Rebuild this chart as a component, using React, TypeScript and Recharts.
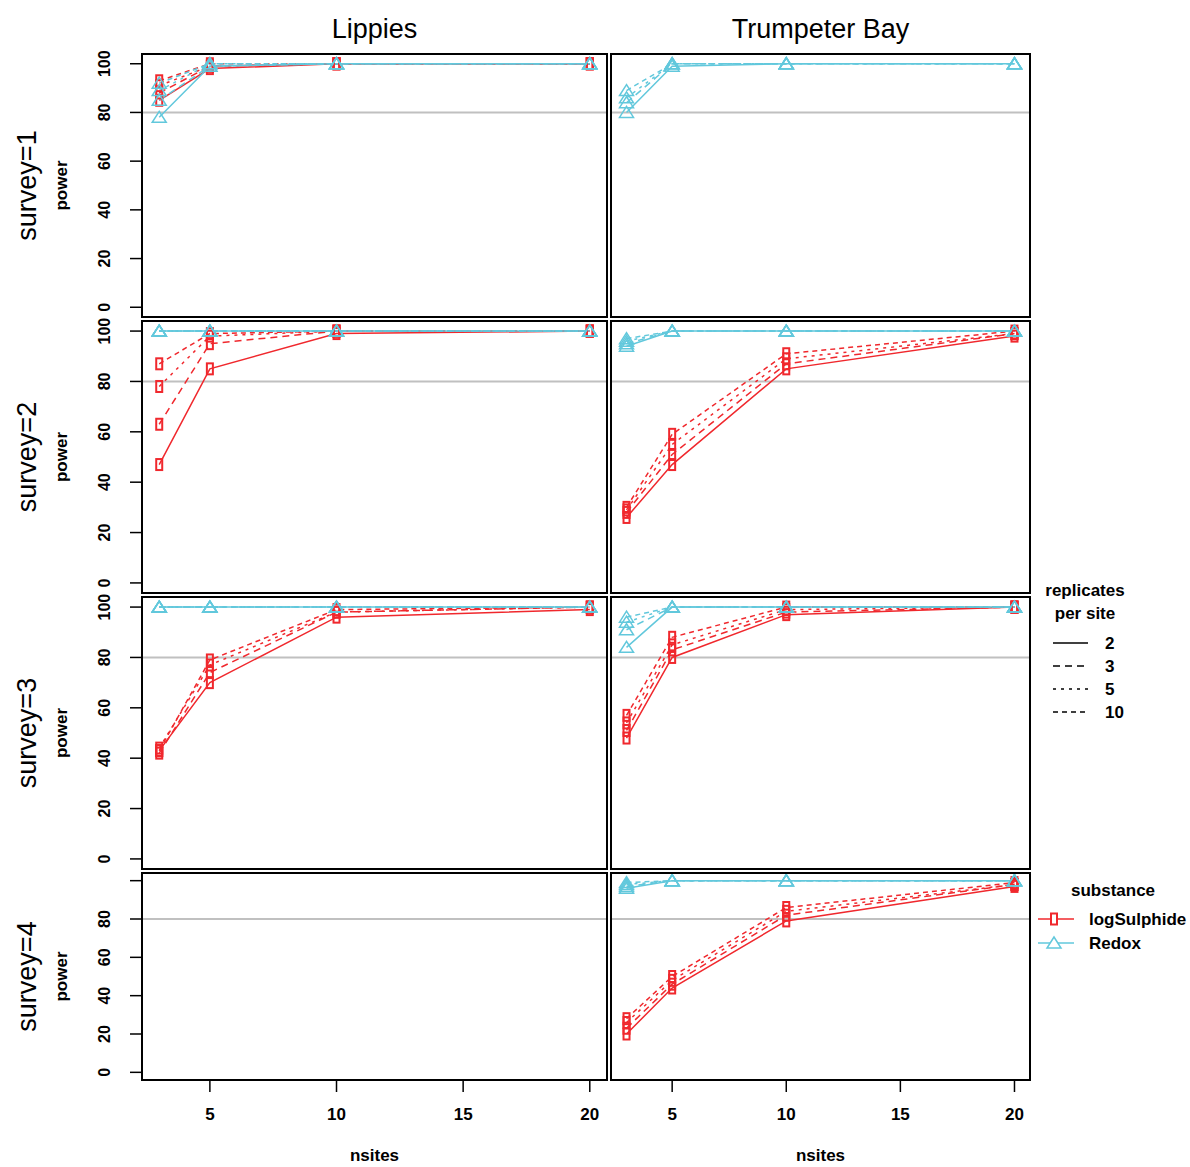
import React from "react";
import { LineChart, Line, XAxis, YAxis, ReferenceLine } from "recharts";

const FONT = '"Liberation Sans", Arial, Helvetica, sans-serif';
const RED = "#f0282d";
const CYAN = "#62c8dc";

const NSITES = [3, 5, 10, 20];
const REPLICATES = [2, 3, 5, 10];
const X_TICKS = [5, 10, 15, 20];
const Y_TICKS = [0, 20, 40, 60, 80, 100];
const SITES = ["Lippies", "Trumpeter Bay"];
const SURVEYS = ["survey=1", "survey=2", "survey=3", "survey=4"];

// power: one row per replicates value (2, 3, 5, 10), one column per nsites (3, 5, 10, 20)
const lippies1Sulphide = [[85, 98, 100, 100], [88, 99, 100, 100], [91, 99, 100, 100], [93, 100, 100, 100]];
const lippies1Redox = [[78, 99, 100, 100], [85, 99, 100, 100], [89, 100, 100, 100], [92, 100, 100, 100]];
const lippies2Sulphide = [[47, 85, 99, 100], [63, 95, 100, 100], [78, 98, 100, 100], [87, 99, 100, 100]];
const lippies2Redox = [[100, 100, 100, 100], [100, 100, 100, 100], [100, 100, 100, 100], [100, 100, 100, 100]];
const lippies3Sulphide = [[43, 70, 96, 99], [42, 74, 98, 100], [44, 77, 98, 100], [43, 79, 99, 100]];
const lippies3Redox = [[100, 100, 100, 100], [100, 100, 100, 100], [100, 100, 100, 100], [100, 100, 100, 100]];

const trumpeter1Redox = [[80, 99, 100, 100], [84, 100, 100, 100], [86, 100, 100, 100], [89, 100, 100, 100]];
const trumpeter2Sulphide = [[26, 47, 85, 98], [28, 51, 87, 99], [29, 55, 89, 99], [30, 59, 91, 100]];
const trumpeter2Redox = [[94, 100, 100, 100], [95, 100, 100, 100], [96, 100, 100, 100], [97, 100, 100, 100]];
const trumpeter3Sulphide = [[48, 80, 97, 100], [51, 83, 98, 100], [54, 85, 99, 100], [57, 88, 100, 100]];
const trumpeter3Redox = [[84, 100, 100, 100], [91, 100, 100, 100], [94, 100, 100, 100], [96, 100, 100, 100]];
const trumpeter4Sulphide = [[20, 44, 79, 97], [23, 46, 82, 98], [26, 48, 84, 98], [28, 50, 86, 99]];
const trumpeter4Redox = [[96, 100, 100, 100], [97, 100, 100, 100], [98, 100, 100, 100], [99, 100, 100, 100]];

const PANELS = [
  [
    { sulphide: lippies1Sulphide, redox: lippies1Redox },
    { sulphide: lippies2Sulphide, redox: lippies2Redox },
    { sulphide: lippies3Sulphide, redox: lippies3Redox },
    { sulphide: null, redox: null },
  ],
  [
    { sulphide: null, redox: trumpeter1Redox },
    { sulphide: trumpeter2Sulphide, redox: trumpeter2Redox },
    { sulphide: trumpeter3Sulphide, redox: trumpeter3Redox },
    { sulphide: trumpeter4Sulphide, redox: trumpeter4Redox },
  ],
];

const COLS = [
  { left: 142, right: 607 },
  { left: 611, right: 1030 },
];
const ROWS = [
  { top: 54, bottom: 317 },
  { top: 321, bottom: 593 },
  { top: 597, bottom: 869 },
  { top: 873, bottom: 1080 },
];

const DASH: Record<number, string | undefined> = { 2: undefined, 3: "7 5", 5: "3 5", 10: "5 4" };

const squareDot = (props: any) => {
  const { cx, cy, index } = props;
  if (cx == null || cy == null) return <g key={index} />;
  return <rect key={index} x={cx - 3} y={cy - 5.5} width={6} height={11} fill="none" stroke={RED} strokeWidth={2} />;
};

const triangleDot = (props: any) => {
  const { cx, cy, index } = props;
  if (cx == null || cy == null) return <g key={index} />;
  return (
    <polygon
      key={index}
      points={`${cx},${cy - 6} ${cx - 7},${cy + 5} ${cx + 7},${cy + 5}`}
      fill="none"
      stroke={CYAN}
      strokeWidth={1.5}
    />
  );
};

function Panel({ col, row }: { col: number; row: number }) {
  const { sulphide, redox } = PANELS[col][row];
  const data = NSITES.map((n, i) => {
    const d: any = { n };
    REPLICATES.forEach((r, j) => {
      d[`s${r}`] = sulphide ? sulphide[j][i] : null;
      d[`x${r}`] = redox ? redox[j][i] : null;
    });
    return d;
  });

  const isLeft = col === 0;
  const isBottom = row === ROWS.length - 1;
  const yAxisW = isLeft ? 46 : 0;
  const padT = 14;
  const padB = isBottom ? 0 : 14;
  const xAxisH = isBottom ? 50 : 0;
  const plotW = COLS[col].right - COLS[col].left;
  const plotH = ROWS[row].bottom - ROWS[row].top;

  const yTick = (p: any) => {
    const { y, payload, index } = p;
    if (isBottom && payload.value === 100) return <g key={index} />;
    const x = 14;
    return (
      <text
        key={index}
        x={x}
        y={y}
        transform={`rotate(-90 ${x} ${y})`}
        textAnchor="middle"
        fontSize={16}
        fontWeight="bold"
        fontFamily={FONT}
        fill="#000"
      >
        {payload.value}
      </text>
    );
  };

  return (
    <>
      <div style={{ position: "absolute", left: COLS[col].left - yAxisW, top: ROWS[row].top - padT }}>
        <LineChart
          width={plotW + yAxisW}
          height={padT + plotH + padB + xAxisH}
          data={data}
          margin={{ top: padT, right: 0, bottom: padB, left: 0 }}
        >
          <XAxis
            type="number"
            dataKey="n"
            domain={[2.32, 20.68]}
            allowDataOverflow
            ticks={X_TICKS}
            hide={!isBottom}
            height={50}
            tickSize={12}
            tickMargin={16}
            axisLine={false}
            tickLine={{ stroke: "#000", strokeWidth: 1.5 }}
            tick={{ fontSize: 17, fontWeight: "bold", fill: "#000", fontFamily: FONT }}
          />
          <YAxis
            type="number"
            domain={[-4, 104]}
            allowDataOverflow
            ticks={Y_TICKS}
            hide={!isLeft}
            width={46}
            tickSize={12}
            axisLine={false}
            tickLine={{ stroke: "#000", strokeWidth: 1.5 }}
            tick={yTick}
          />
          <ReferenceLine y={80} stroke="#c0c0c0" strokeWidth={2} />
          {sulphide &&
            REPLICATES.map((r) => (
              <Line
                key={`s${r}`}
                dataKey={`s${r}`}
                stroke={RED}
                strokeWidth={1.5}
                strokeDasharray={DASH[r]}
                dot={squareDot}
                activeDot={false}
                isAnimationActive={false}
              />
            ))}
          {redox &&
            REPLICATES.map((r) => (
              <Line
                key={`x${r}`}
                dataKey={`x${r}`}
                stroke={CYAN}
                strokeWidth={1.5}
                strokeDasharray={DASH[r]}
                dot={triangleDot}
                activeDot={false}
                isAnimationActive={false}
              />
            ))}
        </LineChart>
      </div>
      <div
        style={{
          position: "absolute",
          left: COLS[col].left - 1,
          top: ROWS[row].top - 1,
          width: plotW + 2,
          height: plotH + 2,
          border: "2px solid #000",
          boxSizing: "border-box",
          pointerEvents: "none",
        }}
      />
    </>
  );
}

function Labels() {
  const t = { fontFamily: FONT, fill: "#000" };
  return (
    <svg width={1190} height={1167} style={{ position: "absolute", left: 0, top: 0 }}>
      {SITES.map((s, i) => {
        const cx = (COLS[i].left + COLS[i].right) / 2;
        return (
          <g key={s}>
            <text x={cx} y={38} textAnchor="middle" fontSize={27} {...t}>
              {s}
            </text>
            <text x={cx} y={1161} textAnchor="middle" fontSize={17} fontWeight="bold" {...t}>
              nsites
            </text>
          </g>
        );
      })}
      {SURVEYS.map((s, i) => {
        const cy = (ROWS[i].top + ROWS[i].bottom) / 2;
        return (
          <g key={s}>
            <text x={36} y={cy} transform={`rotate(-90 36 ${cy})`} textAnchor="middle" fontSize={27} {...t}>
              {s}
            </text>
            <text x={67} y={cy} transform={`rotate(-90 67 ${cy})`} textAnchor="middle" fontSize={17} fontWeight="bold" {...t}>
              power
            </text>
          </g>
        );
      })}
      <text x={1085} y={596} textAnchor="middle" fontSize={17} fontWeight="bold" {...t}>
        replicates
      </text>
      <text x={1085} y={619} textAnchor="middle" fontSize={17} fontWeight="bold" {...t}>
        per site
      </text>
      {REPLICATES.map((r, i) => {
        const y = 643 + i * 23;
        return (
          <g key={r}>
            <line x1={1053} x2={1088} y1={y} y2={y} stroke="#000" strokeWidth={1.5} strokeDasharray={DASH[r]} />
            <text x={1105} y={y + 6} fontSize={17} fontWeight="bold" {...t}>
              {r}
            </text>
          </g>
        );
      })}
      <text x={1113} y={896} textAnchor="middle" fontSize={17} fontWeight="bold" {...t}>
        substance
      </text>
      <line x1={1038} x2={1074} y1={919} y2={919} stroke={RED} strokeWidth={1.5} />
      <rect x={1051} y={913.5} width={6} height={11} fill="#fff" stroke={RED} strokeWidth={2} />
      <text x={1089} y={925} fontSize={17} fontWeight="bold" {...t}>
        logSulphide
      </text>
      <line x1={1038} x2={1074} y1={943} y2={943} stroke={CYAN} strokeWidth={1.5} />
      <polygon points="1054,937 1047,948 1061,948" fill="#fff" stroke={CYAN} strokeWidth={1.5} />
      <text x={1089} y={949} fontSize={17} fontWeight="bold" {...t}>
        Redox
      </text>
    </svg>
  );
}

export default function App() {
  return (
    <div style={{ position: "absolute", left: 0, top: 0, width: 1190, height: 1167, background: "#fff" }}>
      <Labels />
      {COLS.map((_, c) => ROWS.map((__, r) => <Panel key={`${c}-${r}`} col={c} row={r} />))}
    </div>
  );
}
